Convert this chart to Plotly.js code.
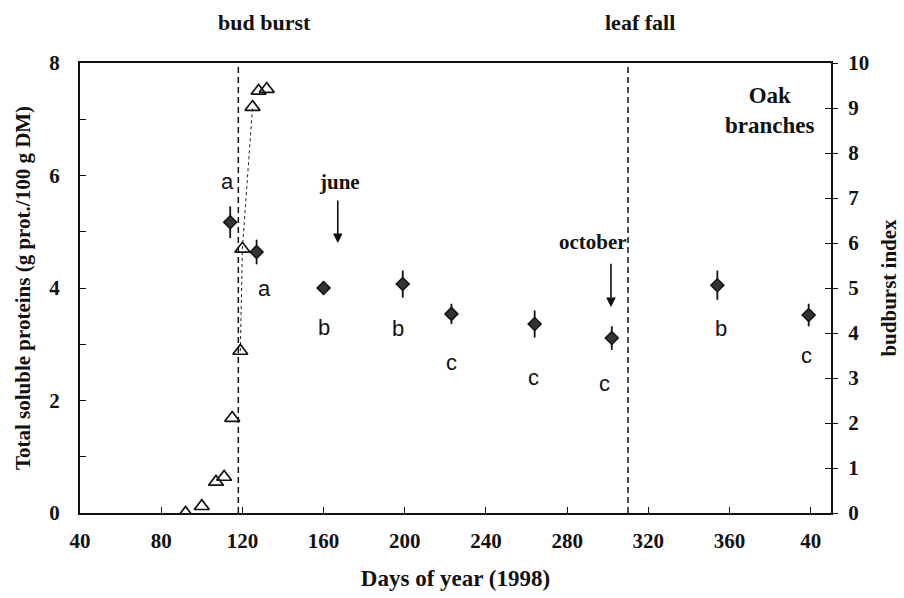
<!DOCTYPE html>
<html>
<head>
<meta charset="utf-8">
<script src="https://cdn.plot.ly/plotly-3.0.1.min.js"></script>
<style>html,body{margin:0;padding:0;background:#fff;}#chart{width:904px;height:598px;}</style>
</head>
<body>
<div id="chart"></div>
<script>
// ---- data ----
var proteinDays = [114, 127, 160, 199, 223, 264, 302, 354, 399];
var proteinValues = [5.17, 4.64, 4.00, 4.07, 3.54, 3.36, 3.11, 4.05, 3.52];
var proteinErrors = [0.28, 0.22, 0.12, 0.24, 0.18, 0.24, 0.21, 0.26, 0.20];
var significanceLetters = ['a', 'a', 'b', 'b', 'c', 'c', 'c', 'b', 'c'];

var budDays = [92, 100, 107, 111, 115, 119, 120, 125, 128, 132];
var budIndex = [0, 0.15, 0.69, 0.80, 2.11, 3.60, 5.87, 9.02, 9.38, 9.42];

var eventDays = [118, 310];
var eventNames = ['bud burst', 'leaf fall'];

var xTickVals = [40, 80, 120, 160, 200, 240, 280, 320, 360, 400];
var xTickText = ['40', '80', '120', '160', '200', '240', '280', '320', '360', '40'];
var yTickVals = [0, 1, 2, 3, 4, 5, 6, 7, 8];
var yTickText = ['0', '', '2', '', '4', '', '6', '', '8'];
var y2TickVals = [0, 1, 2, 3, 4, 5, 6, 7, 8, 9, 10];

// ---- styling / placement (not data) ----
var serif = 'Liberation Serif, Times New Roman, serif';
function sb(size) { return {family: serif, size: size, color: '#111', weight: 700}; }
var letterFont = {family: 'Liberation Sans, Arial, sans-serif', size: 22, color: '#111', weight: 400};
var letterShift = [[-3, 41], [8, -36], [0, -39], [-5, -44], [0, -49], [-1, -53], [-7, -45], [4, -43], [-2, -40]];
var eventLabelDay = [131, 316];

var traces = [
  {
    x: budDays.slice(5, 8), y: budIndex.slice(5, 8), yaxis: 'y2',
    mode: 'lines', line: {color: '#222', width: 1, dash: 'dot'},
    hoverinfo: 'skip', showlegend: false
  },
  {
    x: budDays, y: budIndex, yaxis: 'y2',
    mode: 'markers',
    marker: {symbol: 'triangle-up-open', size: 13, color: '#111', line: {width: 1.7, color: '#111'}},
    showlegend: false
  },
  {
    x: proteinDays, y: proteinValues,
    mode: 'markers',
    error_y: {type: 'data', array: proteinErrors, visible: true, thickness: 1.8, width: 0, color: '#111'},
    marker: {symbol: 'diamond', size: 10, color: '#333', line: {width: 1.5, color: '#111'}},
    showlegend: false
  }
];

var annotations = [];
for (var i = 0; i < proteinDays.length; i++) {
  annotations.push({
    x: proteinDays[i], y: proteinValues[i], xref: 'x', yref: 'y',
    text: significanceLetters[i], showarrow: false, font: letterFont,
    xshift: letterShift[i][0], yshift: letterShift[i][1]
  });
}
for (var j = 0; j < eventDays.length; j++) {
  annotations.push({
    x: eventLabelDay[j], y: 1.0, xref: 'x', yref: 'paper', yanchor: 'middle',
    yshift: 41, text: eventNames[j], showarrow: false, font: sb(22)
  });
}
// month arrows
annotations.push({x: 168, y: 5.88, xref: 'x', yref: 'y', text: 'june', showarrow: false, font: sb(21)});
annotations.push({x: 167, y: 4.8, xref: 'x', yref: 'y', text: '', showarrow: true, ax: 0, ay: -44,
  arrowhead: 2, arrowsize: 1.2, arrowwidth: 1.6, arrowcolor: '#111'});
annotations.push({x: 292.5, y: 4.82, xref: 'x', yref: 'y', text: 'october', showarrow: false, font: sb(21)});
annotations.push({x: 301.6, y: 3.66, xref: 'x', yref: 'y', text: '', showarrow: true, ax: 0, ay: -45,
  arrowhead: 2, arrowsize: 1.2, arrowwidth: 1.6, arrowcolor: '#111'});
annotations.push({x: 380, y: 7.15, xref: 'x', yref: 'y', text: 'Oak<br>branches', showarrow: false,
  font: sb(23)});

var shapes = eventDays.map(function (d) {
  return {type: 'line', xref: 'x', yref: 'paper', x0: d, x1: d, y0: 0, y1: 1,
    line: {color: '#111', width: 1.5, dash: '6px,4px'}};
});

var layout = {
  width: 904, height: 598,
  margin: {l: 80, r: 73, t: 63, b: 85},
  paper_bgcolor: '#fff', plot_bgcolor: '#fff',
  showlegend: false,
  font: sb(20),
  xaxis: {
    range: [40, 410], tickvals: xTickVals, ticktext: xTickText,
    ticks: 'inside', ticklen: 6, tickwidth: 1, tickcolor: '#111',
    showline: true, linecolor: '#111', linewidth: 2, mirror: true,
    showgrid: false, zeroline: false, tickfont: sb(21), ticklabelstandoff: 8,
    title: {text: 'Days of year (1998)', font: sb(23), standoff: 18}
  },
  yaxis: {
    range: [0, 8], tickvals: yTickVals, ticktext: yTickText,
    ticks: 'inside', ticklen: 6, tickwidth: 1, tickcolor: '#111',
    showline: true, linecolor: '#111', linewidth: 2,
    showgrid: false, zeroline: false, tickfont: sb(21), ticklabelstandoff: 14,
    title: {text: 'Total soluble proteins (g prot./100 g DM)', font: sb(21), standoff: 13}
  },
  yaxis2: {
    range: [0, 10], overlaying: 'y', side: 'right', anchor: 'x',
    tickvals: y2TickVals, ticks: 'outside', ticklen: 5, tickwidth: 1, tickcolor: '#111',
    showline: true, linecolor: '#111', linewidth: 2,
    showgrid: false, zeroline: false, tickfont: sb(21), ticklabelstandoff: 6,
    title: {text: 'budburst index', font: sb(21), standoff: 13}
  },
  yaxis3: {
    range: [0, 10], overlaying: 'y', side: 'right', anchor: 'x',
    tickvals: y2TickVals, ticks: 'inside', ticklen: 6, tickwidth: 1, tickcolor: '#111',
    showticklabels: false, showline: false, showgrid: false, zeroline: false
  },
  annotations: annotations,
  shapes: shapes
};

traces.push({x: [40], y: [0], yaxis: 'y3', mode: 'markers', marker: {opacity: 0}, hoverinfo: 'skip', showlegend: false});

Plotly.newPlot('chart', traces, layout, {displayModeBar: false, staticPlot: true});
</script>
</body>
</html>
